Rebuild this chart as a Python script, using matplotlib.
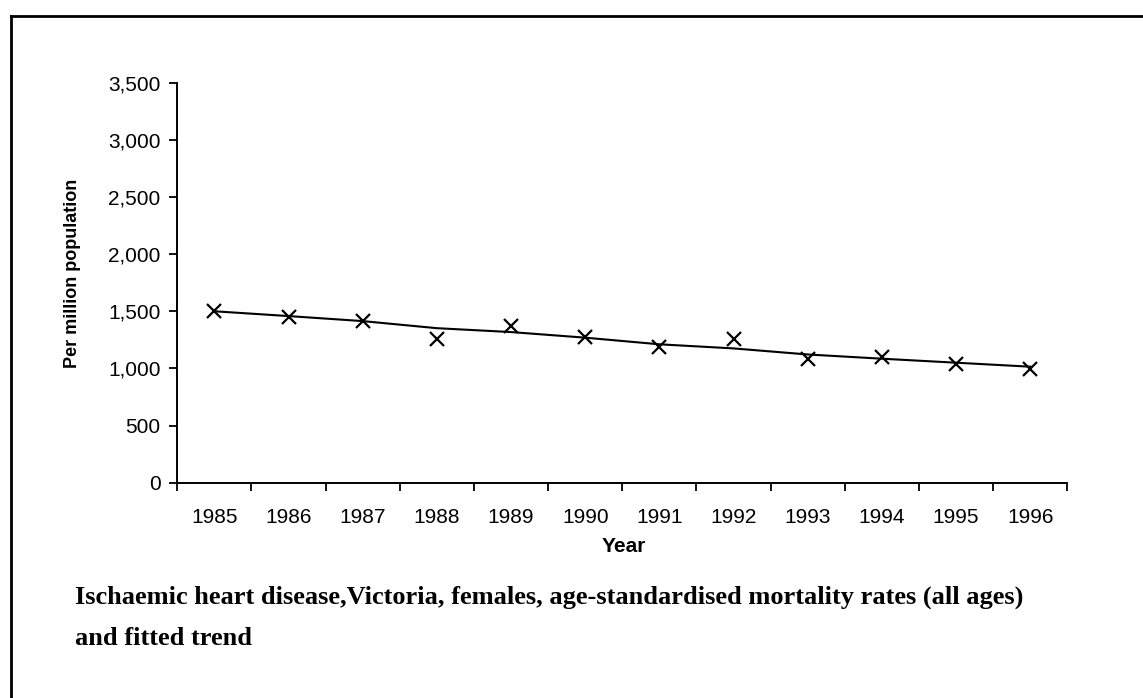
import matplotlib
matplotlib.use("Agg")
import matplotlib.pyplot as plt
from matplotlib.lines import Line2D
import numpy as np

years = ["1985", "1986", "1987", "1988", "1989", "1990",
         "1991", "1992", "1993", "1994", "1995", "1996"]
observed = [1500, 1452, 1414, 1260, 1370, 1277, 1185, 1256, 1085, 1102, 1035, 995]
trend = [1500, 1458, 1414, 1352, 1318, 1269, 1211, 1175, 1122, 1085, 1050, 1015]
y_ticks = [0, 500, 1000, 1500, 2000, 2500, 3000, 3500]

caption_1 = "Ischaemic heart disease,Victoria, females, age-standardised mortality rates (all ages)"
caption_2 = "and fitted trend"

plt.rcParams["font.family"] = ["Liberation Sans", "DejaVu Sans"]

W, H = 1143, 698
fig = plt.figure(figsize=(W / 100, H / 100), dpi=100)
ax = fig.add_axes([177.3 / W, 1 - 482.7 / H, (1067.3 - 177.3) / W, 400 / H])

x = np.arange(len(years))
ax.plot(x, trend, color="black", lw=1.5, zorder=2)
ax.plot(x, observed, ls="none", marker="x", ms=10, mew=1.6, color="black", zorder=3)

ax.set_xlim(-0.5, len(years) - 0.5)
ax.set_ylim(0, 3500)

# category axis: ticks between categories, labels at centres
ax.set_xticks(np.arange(-0.5, len(years), 1.0))
ax.set_xticklabels([])
ax.set_xticks(x, minor=True)
ax.set_xticklabels(years, minor=True, fontsize=15)
ax.tick_params(axis="x", which="major", direction="out", length=6, width=1.3)
ax.tick_params(axis="x", which="minor", length=0, pad=18)

ax.set_yticks(y_ticks)
ax.set_yticklabels([f"{v:,}" for v in y_ticks], fontsize=15)
ax.tick_params(axis="y", direction="out", length=6, width=1.3, pad=6)

for side in ["top", "right"]:
    ax.spines[side].set_visible(False)
for side in ["left", "bottom"]:
    ax.spines[side].set_linewidth(1.4)

ax.set_ylabel("Per million population", fontsize=13, fontweight="bold")
ax.yaxis.set_label_coords((72.5 - 177.3) / 890, (482.7 - 273.5) / 400)
ax.set_xlabel("Year", fontsize=15, fontweight="bold")
ax.xaxis.set_label_coords((623.5 - 177.3) / 890, -(546 - 482.7) / 400)
ax.xaxis.label.set_va("center")
ax.yaxis.label.set_va("center")

serif = ["Liberation Serif", "DejaVu Serif"]
fig.text(75 / W, 1 - 604 / H, caption_1, fontsize=19, fontweight="bold",
         family=serif, va="baseline", ha="left")
fig.text(75 / W, 1 - 645 / H, caption_2, fontsize=19, fontweight="bold",
         family=serif, va="baseline", ha="left")

# page frame: top and left edges
fig.add_artist(Line2D([11 / W, 1], [1 - 16 / H, 1 - 16 / H], color="black", lw=2))
fig.add_artist(Line2D([11 / W, 11 / W], [0, 1 - 16 / H], color="black", lw=2))

fig.savefig("out.png", dpi=100)
